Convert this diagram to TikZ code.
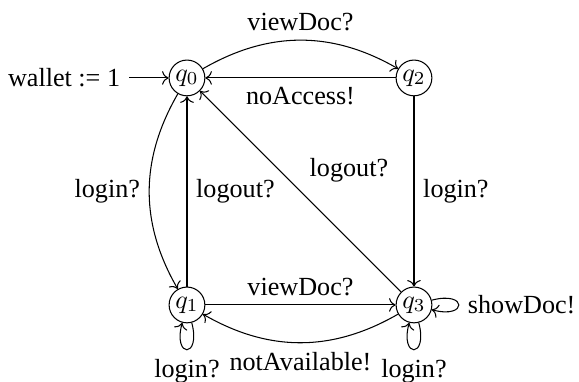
\documentclass[tikz,border=0pt]{standalone}
\usepackage{fontspec}
\setmainfont{Liberation Serif}
\usetikzlibrary{arrows.meta,positioning}

\begin{document}
\begin{tikzpicture}[
  loc/.style={draw, circle, inner sep=1pt, minimum size=13pt},
  arr/.style={-{To}}
]
  \useasboundingbox (-71.5pt,-115.9pt) rectangle (149.9pt,29.8pt);

  % States
  \node[loc] (q0) {$q_0$};
  \node[loc, on grid, right=86.8pt of q0] (q2) {$q_2$};
  \node[loc, on grid, below=86.8pt of q0] (q1) {$q_1$};
  \node[loc, on grid, below=86.8pt of q2] (q3) {$q_3$};

  % Initial marker
  \node[left=15pt of q0] (init) {wallet := 1};
  \draw[arr] (init) -- (q0);

  % Transitions
  \draw[arr] (q0) to[bend left=30] node[above] {viewDoc?} (q2);
  \draw[arr] (q2) -- node[below] {noAccess!} (q0);
  \draw[arr] (q0) to[bend right=30] node[left] {login?} (q1);
  \draw[arr] (q1) -- node[right] {logout?} (q0);
  \draw[arr] (q2) -- node[right] {login?} (q3);
  \draw[arr] (q3) -- node[above right] {logout?} (q0);
  \draw[arr] (q1) -- node[above] {viewDoc?} (q3);
  \draw[arr] (q3) to[bend left=30] node[below] {notAvailable!} (q1);

  % Self loops
  \draw[arr] (q1) to[loop below] node[below] {login?} (q1);
  \draw[arr] (q3) to[loop below] node[below] {login?} (q3);
  \draw[arr] (q3) to[loop right] node[right] {showDoc!} (q3);
\end{tikzpicture}
\end{document}
